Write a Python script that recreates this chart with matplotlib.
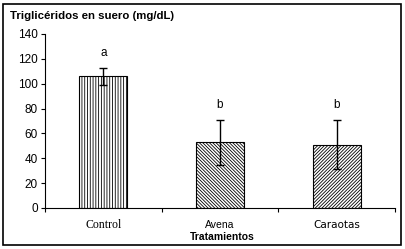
import matplotlib
matplotlib.use('Agg')
import matplotlib.pyplot as plt
from matplotlib.patches import Rectangle

categories = ['Control', 'Avena', 'Caraotas']
means = [106, 53, 51]
errors = [7, 18, 19.5]
letters = ['a', 'b', 'b']
hatches = ['||||||', '\\\\\\\\\\\\\\\\\\\\', '//////////']
label_fonts = ['Liberation Serif', 'Liberation Sans', 'DejaVu Sans']
yticks = [0, 20, 40, 60, 80, 100, 120, 140]

plt.rcParams['hatch.linewidth'] = 0.6

fig = plt.figure(figsize=(4.05, 2.49), dpi=100)
fig.patches.append(Rectangle((3/405, 4/249), 398/405, 241/249, transform=fig.transFigure,
                             fill=False, edgecolor='black', linewidth=1.2))
ax = fig.add_axes([45/405, 1-208/249, 350/405, 174/249])

x = range(len(categories))
ax.bar(x, means, width=0.41, color='white', edgecolor='black', linewidth=0.8,
       hatch=hatches)
ax.errorbar(x, means, yerr=errors, fmt='none', ecolor='black', elinewidth=1.0,
            capsize=3, capthick=1.0)
for i, t in enumerate(letters):
    ax.text(i, means[i] + errors[i] + 12, t, ha='center', va='center', fontsize=8.5,
            family='Liberation Sans')

ax.set_xlim(-0.5, 2.5)
ax.set_ylim(0, 140)
ax.set_yticks(yticks)
ax.set_yticklabels([str(v) for v in yticks], fontsize=8.5, family='Liberation Sans')
ax.set_xticks([-0.5, 0.5, 1.5, 2.5])
ax.set_xticklabels([])
ax.tick_params(axis='x', length=3, width=0.8)
ax.tick_params(axis='y', length=3, width=0.8, pad=2)
for i, c in enumerate(categories):
    ax.text(i, -13.5, c, ha='center', va='center', fontsize=8.5 if i == 0 else 7.5,
            family=label_fonts[i])
ax.spines['top'].set_visible(False)
ax.spines['right'].set_visible(False)
ax.spines['left'].set_linewidth(0.8)
ax.spines['bottom'].set_linewidth(0.8)

fig.text(10/405, 1-16/249, 'Triglicéridos en suero (mg/dL)', fontsize=8.2,
         fontweight='bold', family='Liberation Sans', va='center')
fig.text(222/405, 1-237/249, 'Tratamientos', fontsize=7.5, fontweight='bold',
         family='Liberation Sans', ha='center', va='center')

fig.savefig('out.png', dpi=100)
